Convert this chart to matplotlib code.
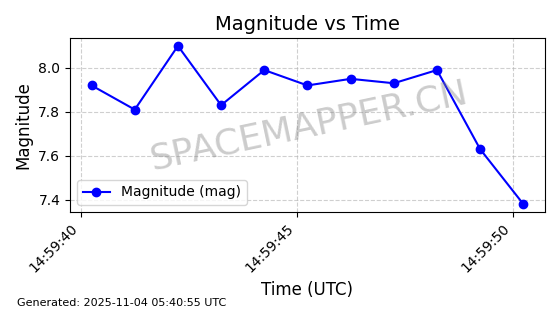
import pandas as pd
import matplotlib
matplotlib.use("Agg")
import matplotlib.pyplot as plt
import matplotlib.dates as mdates

# Observation times (UTC) and magnitudes
times = [
    "2025-11-04 14:59:40.25", "2025-11-04 14:59:41.25", "2025-11-04 14:59:42.25",
    "2025-11-04 14:59:43.25", "2025-11-04 14:59:44.25", "2025-11-04 14:59:45.25",
    "2025-11-04 14:59:46.25", "2025-11-04 14:59:47.25", "2025-11-04 14:59:48.25",
    "2025-11-04 14:59:49.25", "2025-11-04 14:59:50.25",
]
magnitudes = [7.92, 7.81, 8.10, 7.83, 7.99, 7.92, 7.95, 7.93, 7.99, 7.63, 7.38]
y_ticks = [7.4, 7.6, 7.8, 8.0]

t = pd.to_datetime(times)

fig = plt.figure(figsize=(5.6, 3.14), dpi=100)
ax = fig.add_axes([0.125, 0.325, 0.848, 0.554])

ax.plot(t, magnitudes, "o-", color="blue", markersize=6, linewidth=1.5,
        label="Magnitude (mag)")

ax.set_title("Magnitude vs Time", fontsize=14)
ax.set_xlabel("Time (UTC)", fontsize=12)
ax.set_ylabel("Magnitude", fontsize=12)
ax.set_yticks(y_ticks)
ax.xaxis.set_major_locator(mdates.SecondLocator(bysecond=[0, 5, 10, 15, 20, 25, 30, 35, 40, 45, 50, 55]))
ax.xaxis.set_major_formatter(mdates.DateFormatter("%H:%M:%S"))
plt.setp(ax.get_xticklabels(), rotation=45, ha="right")
ax.grid(True, linestyle="--", alpha=0.6)
ax.legend(loc="lower left")

fig.text(0.551, 0.60, "SPACEMAPPER.CN", fontsize=26, color="gray", alpha=0.4,
         rotation=12, ha="center", va="center")
fig.text(0.03, 0.025, "Generated: 2025-11-04 05:40:55 UTC", fontsize=8)

fig.savefig("out.png", dpi=100)
plt.close(fig)
